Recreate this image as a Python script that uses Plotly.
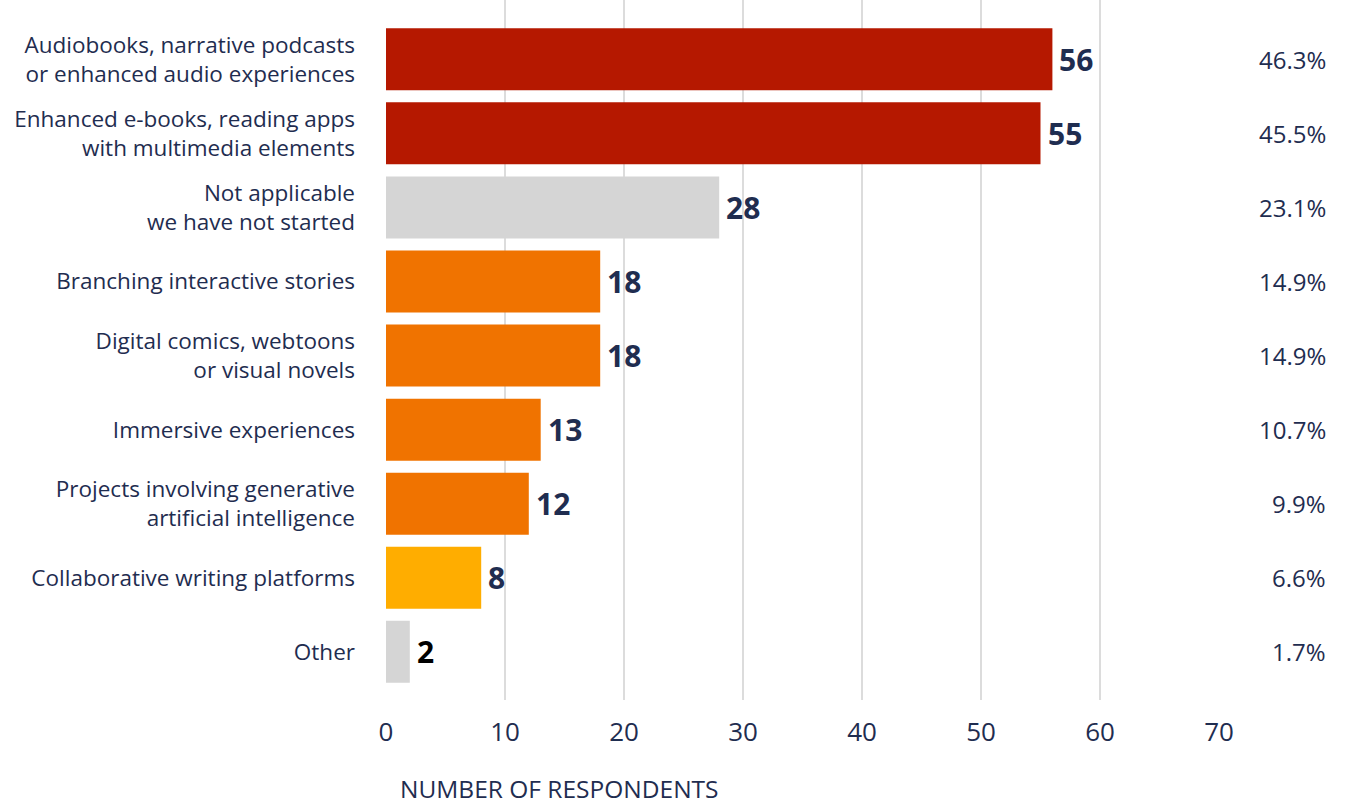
import plotly.graph_objects as go

# Survey results: formats respondents are working on
categories = [
    "Audiobooks, narrative podcasts<br>or enhanced audio experiences",
    "Enhanced e-books, reading apps<br>with multimedia elements",
    "Not applicable<br>we have not started",
    "Branching interactive stories",
    "Digital comics, webtoons<br>or visual novels",
    "Immersive experiences",
    "Projects involving generative<br>artificial intelligence",
    "Collaborative writing platforms",
    "Other",
]
respondents = [56, 55, 28, 18, 18, 13, 12, 8, 2]
shares = ["46.3%", "45.5%", "23.1%", "14.9%", "14.9%", "10.7%", "9.9%", "6.6%", "1.7%"]
x_ticks = [0, 10, 20, 30, 40, 50, 60, 70]

RED = "#B51800"
ORANGE = "#F07300"
YELLOW = "#FFAD00"
GREY = "#D5D5D5"
NAVY = "#1F2D50"
bar_colors = [RED, RED, GREY, ORANGE, ORANGE, ORANGE, ORANGE, YELLOW, GREY]
value_colors = [NAVY] * 8 + ["#000000"]

FONT = "'Open Sans', Lato, sans-serif"

fig = go.Figure(
    go.Bar(
        x=respondents,
        y=categories,
        orientation="h",
        marker=dict(color=bar_colors, line=dict(width=0)),
        hoverinfo="skip",
    )
)

# value labels just past each bar end
for cat, val, col in zip(categories, respondents, value_colors):
    fig.add_annotation(
        x=val, y=cat, xref="x", yref="y", text=f"<b>{val}</b>",
        showarrow=False, xanchor="left", yanchor="middle", xshift=5,
        font=dict(family=FONT, size=30, color=col),
    )

# share column on the right
for cat, share in zip(categories, shares):
    fig.add_annotation(
        x=1.1309, y=cat, xref="paper", yref="y", text=share,
        showarrow=False, xanchor="right", yanchor="middle",
        font=dict(family=FONT, size=24, color=NAVY),
    )

fig.add_annotation(
    x=0.0144, y=-0.126, xref="paper", yref="paper", text="NUMBER OF RESPONDENTS",
    showarrow=False, xanchor="left", yanchor="middle",
    font=dict(family=FONT, size=24.5, color=NAVY),
)

fig.update_layout(
    width=1346, height=808,
    margin=dict(l=386, r=127, t=0, b=108),
    paper_bgcolor="white", plot_bgcolor="white",
    bargap=0.163,
    showlegend=False,
    font=dict(family=FONT, color=NAVY),
)
fig.update_xaxes(
    range=[0, 70], tickvals=x_ticks, showgrid=True, gridcolor="#DCDCDC", gridwidth=1.5,
    zeroline=False, showline=False, ticks="", ticklabelstandoff=14,
    tickfont=dict(family=FONT, size=26, color=NAVY),
)
fig.update_yaxes(
    type="category", categoryorder="array", categoryarray=categories,
    range=[8.65, -0.80], showgrid=False, zeroline=False, showline=False,
    ticks="", ticklabelstandoff=30,
    tickfont=dict(family=FONT, size=22.5, color=NAVY),
)

fig.write_html("out.html")
